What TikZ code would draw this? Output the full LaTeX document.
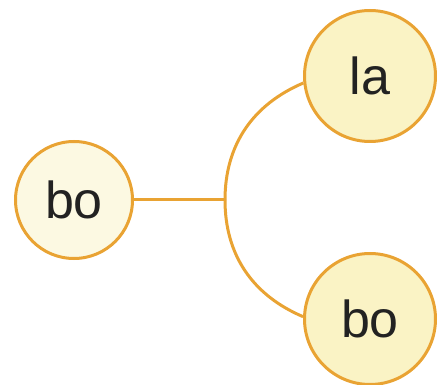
\documentclass[tikz,border=0pt]{standalone}
\usepackage{fontspec}
\setmainfont{Liberation Sans}
\definecolor{edgeor}{HTML}{E9A333}
\definecolor{fillA}{HTML}{FCF9E2}
\definecolor{fillB}{HTML}{FAF3C5}
\definecolor{txt}{HTML}{222222}
\begin{document}
\begin{tikzpicture}[x=1pt,y=-1pt,
  bubble/.style={circle,draw=edgeor,line width=3pt,inner sep=0pt,text=txt,
    font=\fontsize{52}{60}\selectfont},
  conn/.style={draw=edgeor,line width=3pt}]
\useasboundingbox (0,0) rectangle (437,385);
\node[bubble,fill=fillA,minimum size=117pt] (L) at (74,200) {bo};
\node[bubble,fill=fillB,minimum size=131pt] (T) at (370,76) {la};
\node[bubble,fill=fillB,minimum size=131pt] (B) at (370,319) {bo};
\coordinate (j) at (225,200);
\draw[conn] (L) -- (j);
\draw[conn] (j) to[out=90,in=203] (T.186);
\draw[conn] (j) to[out=-90,in=157] (B.178);
\end{tikzpicture}
\end{document}
